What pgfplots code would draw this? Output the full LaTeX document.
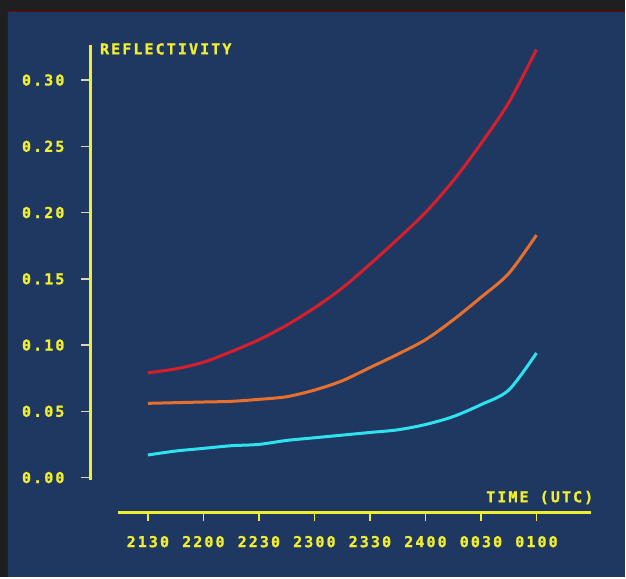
\documentclass[border=0pt]{standalone}
\usepackage{pgfplots}
\pgfplotsset{compat=1.18}
\usepackage{fontspec}
\newfontfamily\pix[LetterSpace=14,FakeBold=1.2]{DejaVu Sans Mono Bold}
\newcommand{\pixfont}{\pix\fontsize{15}{15}\selectfont}
\definecolor{navy}{HTML}{1F3862}
\definecolor{scrY}{HTML}{F0EE2E}
\definecolor{tickW}{HTML}{D8D8B0}
\definecolor{cRed}{HTML}{D81E2A}
\definecolor{cOrange}{HTML}{E8702C}
\definecolor{cCyan}{HTML}{2EE2EE}
\begin{document}
\begin{tikzpicture}
\fill[black!88] (0,0) rectangle (626pt,578pt);
\fill[navy] (8pt,0) rectangle (626pt,566pt);
\draw[red!45!black, line width=1.2pt] (7.5pt,0) -- (7.5pt,566.5pt) -- (626pt,566.5pt);

% y axis, drawn on its own
\begin{axis}[
    at={(91pt,98pt)}, anchor=south west,
    scale only axis, width=1pt, height=435pt,
    xmin=0, xmax=1, ymin=-0.0015, ymax=0.3265,
    hide x axis,
    axis y line=left,
    y axis line style={-, scrY, line width=3pt},
    ytick={0,0.05,0.10,0.15,0.20,0.25,0.30},
    tick align=outside, major tick length=10pt,
    y tick style={tickW, line width=1.5pt},
    yticklabel style={font=\pixfont, text=scrY, xshift=-13pt,
        /pgf/number format/fixed, /pgf/number format/fixed zerofill,
        /pgf/number format/precision=2},
    /pgf/number format/assume math mode=true,
]
\end{axis}

% x axis and the curves
\begin{axis}[
    at={(118pt,65pt)}, anchor=south west,
    scale only axis, width=474pt, height=468pt,
    xmin=-0.54, xmax=7.99, ymin=-0.0264, ymax=0.3265,
    hide y axis,
    axis x line=bottom,
    x axis line style={-, scrY, line width=3.5pt},
    xtick={0,1,2,3,4,5,6,7},
    xticklabels={2130,2200,2230,2300,2330,2400,0030,0100},
    tick align=outside, major tick length=8pt,
    x tick style={scrY, line width=1.5pt},
    xticklabel style={font=\pixfont, text=scrY, yshift=-12pt},
    clip=false,
]
\addplot[cRed, line width=3pt, smooth] coordinates {
 (0,0.079) (0.5,0.082) (1,0.087) (1.5,0.095) (2,0.104) (2.5,0.115) (3,0.128)
 (3.5,0.143) (4,0.161) (4.5,0.180) (5,0.200) (5.5,0.224) (6,0.252) (6.5,0.283) (7,0.323)};
\addplot[cOrange, line width=3pt, smooth] coordinates {
 (0,0.056) (0.5,0.0565) (1,0.057) (1.5,0.0575) (2,0.059) (2.5,0.061) (3,0.066)
 (3.5,0.073) (4,0.083) (4.5,0.093) (5,0.104) (5.5,0.119) (6,0.136) (6.5,0.154) (7,0.183)};
\addplot[cCyan, line width=3pt, smooth] coordinates {
 (0,0.017) (0.5,0.020) (1,0.022) (1.5,0.024) (2,0.025) (2.5,0.028) (3,0.030)
 (3.5,0.032) (4,0.034) (4.5,0.036) (5,0.040) (5.5,0.046) (6,0.055) (6.5,0.066) (7,0.094)};
\end{axis}

\node[anchor=west, text=scrY, font=\pixfont, inner sep=0pt] at (100pt,529pt) {REFLECTIVITY};
\node[anchor=east, text=scrY, font=\pixfont, inner sep=0pt] at (594pt,80pt) {TIME (UTC)};
\end{tikzpicture}
\end{document}
